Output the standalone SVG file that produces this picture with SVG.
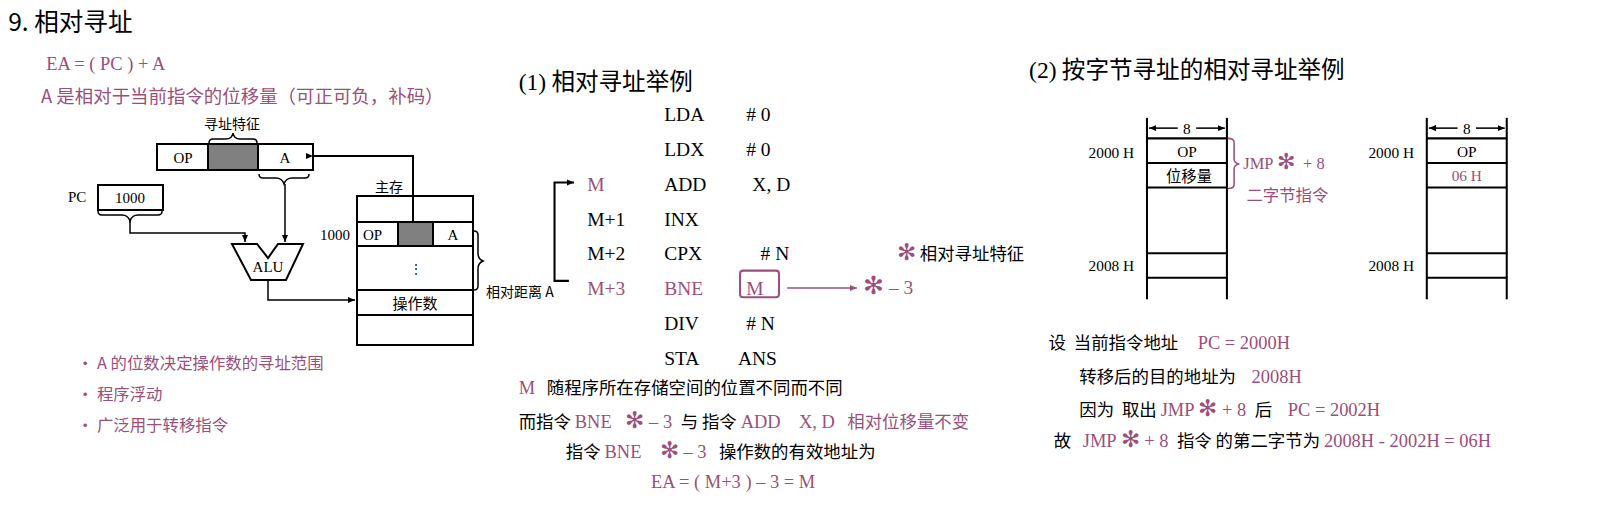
<svg xmlns="http://www.w3.org/2000/svg" width="1603" height="521" viewBox="0 0 1603 521">
<style>
text{font-family:"Liberation Serif","Noto Sans CJK SC",serif;font-size:17px;fill:#000;white-space:pre}
.cn{font-family:"Noto Sans CJK SC",sans-serif}
.p{fill:#9B4F7A}
.l{font-family:"Liberation Serif",serif;font-size:18px}
.b{fill:none;stroke:#000;stroke-width:2}
.t{fill:none;stroke:#000;stroke-width:1.5}
.g{fill:#808080;stroke:#000;stroke-width:2}
.m{font-size:19px}
</style>
<defs>
<marker id="a" markerWidth="8" markerHeight="8" refX="7" refY="4" orient="auto" markerUnits="userSpaceOnUse"><path d="M0,1 L7,4 L0,7 z" fill="#000"/></marker>
<marker id="ap" markerWidth="8" markerHeight="8" refX="7" refY="4" orient="auto" markerUnits="userSpaceOnUse"><path d="M0,1 L7,4 L0,7 z" fill="#9B4F7A"/></marker>
</defs>
<g transform="scale(1.025)">
<text x="8" y="30" class="cn" style="font-size:24px">9. 相对寻址</text>
<text x="45" y="68" class="p" style="font-size:18px">EA = ( PC ) + A</text>
<text x="40" y="100" class="p cn" style="font-size:18px">A 是相对于当前指令的位移量（可正可负，补码）</text>
<g id="bul">
<text x="75" y="360" class="p cn" style="font-size:16px">• A 的位数决定操作数的寻址范围</text>
<text x="75" y="390" class="p cn" style="font-size:16px">• 程序浮动</text>
<text x="75" y="420" class="p cn" style="font-size:16px">• 广泛用于转移指令</text>
</g>
<g id="prog">
<text x="506" y="88" class="cn" style="font-size:23px"><tspan style="font-family:'Liberation Serif'">(1)</tspan> 相对寻址举例</text>
<text x="648" y="118" class="m">LDA</text><text x="728" y="118" class="m"># 0</text>
<text x="648" y="152" class="m">LDX</text><text x="728" y="152" class="m"># 0</text>
<text x="573" y="186" class="m p">M</text><text x="648" y="186" class="m">ADD</text><text x="734" y="186" class="m">X, D</text>
<text x="573" y="220" class="m">M+1</text><text x="648" y="220" class="m">INX</text>
<text x="573" y="254" class="m">M+2</text><text x="648" y="254" class="m">CPX</text><text x="742" y="254" class="m"># N</text>
<text x="573" y="288" class="m p">M+3</text><text x="648" y="288" class="m p">BNE</text><text x="728" y="288" class="m p">M</text>
<text x="648" y="322" class="m">DIV</text><text x="728" y="322" class="m"># N</text>
<text x="648" y="356" class="m">STA</text><text x="720" y="356" class="m">ANS</text>
<rect x="722" y="264" width="38" height="26" rx="3" fill="none" stroke="#9B4F7A" stroke-width="2"/>
<text x="875" y="254" class="cn" style="font-size:17px"><tspan class="p" style="font-size:22px">✻</tspan> 相对寻址特征</text>
<text x="842" y="287" class="p" style="font-size:19px"><tspan style="font-size:24px">✻</tspan> – 3</text>
</g>
<g id="connectors2">
<path d="M555,274 H541 V178 H560" class="b" marker-end="url(#a)"/>
<path d="M768,281 H836" stroke="#9B4F7A" stroke-width="1.5" fill="none" marker-end="url(#ap)"/>
</g>
<g id="notes">
<text x="506" y="384" class="cn" style="font-size:17px"><tspan class="p l">M</tspan>   随程序所在存储空间的位置不同而不同</text>
<text x="506" y="418" class="cn" style="font-size:17px">而指令 <tspan class="p l">BNE   <tspan style="font-size:22px">✻</tspan> – 3 </tspan> 与 指令 <tspan class="p l">ADD    X, D </tspan>  <tspan class="p">相对位移量不变</tspan></text>
<text x="552" y="447" class="cn" style="font-size:17px">指令 <tspan class="p l">BNE    <tspan style="font-size:22px">✻</tspan> – 3 </tspan>  操作数的有效地址为</text>
<text x="635" y="476" class="p" style="font-size:18px">EA = ( M+3 ) – 3 = M</text>
</g>
<text x="1004" y="76" class="cn" style="font-size:23px"><tspan style="font-family:'Liberation Serif'">(2)</tspan> 按字节寻址的相对寻址举例</text>
<g id="mem1">
<line x1="1119" y1="115" x2="1119" y2="292" class="b"/>
<line x1="1197" y1="115" x2="1197" y2="292" class="b"/>
<line x1="1119" y1="135" x2="1197" y2="135" class="b"/>
<line x1="1119" y1="159" x2="1197" y2="159" class="b"/>
<line x1="1119" y1="183" x2="1197" y2="183" class="b"/>
<line x1="1119" y1="247" x2="1197" y2="247" class="b"/>
<line x1="1119" y1="271" x2="1197" y2="271" class="b"/>
<path d="M1149,125 H1121" class="t" marker-end="url(#a)"/>
<path d="M1167,125 H1195" class="t" marker-end="url(#a)"/>
<text x="1158" y="131" text-anchor="middle" style="font-size:15px">8</text>
<text x="1158" y="153" text-anchor="middle" style="font-size:15px">OP</text>
<text x="1160" y="178" text-anchor="middle" class="cn" style="font-size:15px">位移量</text>
<text x="1062" y="154" style="font-size:15px">2000 H</text>
<text x="1062" y="264" style="font-size:15px">2008 H</text>
<path d="M1198,135 q6,0 6,4 v16 q0,4 5,5 q-5,1 -5,5 v15 q0,4 -6,4" fill="none" stroke="#9B4F7A" stroke-width="1.5"/>
<text x="1213" y="165" class="p" style="font-size:16px">JMP <tspan style="font-size:21px">✻</tspan>  + 8</text>
<text x="1216" y="196" class="p cn" style="font-size:16px">二字节指令</text>
</g>
<g id="mem2">
<line x1="1392" y1="115" x2="1392" y2="292" class="b"/>
<line x1="1470" y1="115" x2="1470" y2="292" class="b"/>
<line x1="1392" y1="135" x2="1470" y2="135" class="b"/>
<line x1="1392" y1="159" x2="1470" y2="159" class="b"/>
<line x1="1392" y1="183" x2="1470" y2="183" class="b"/>
<line x1="1392" y1="247" x2="1470" y2="247" class="b"/>
<line x1="1392" y1="271" x2="1470" y2="271" class="b"/>
<path d="M1422,125 H1394" class="t" marker-end="url(#a)"/>
<path d="M1440,125 H1468" class="t" marker-end="url(#a)"/>
<text x="1431" y="131" text-anchor="middle" style="font-size:15px">8</text>
<text x="1431" y="153" text-anchor="middle" style="font-size:15px">OP</text>
<text x="1431" y="177" text-anchor="middle" class="p" style="font-size:15px">06 H</text>
<text x="1335" y="154" style="font-size:15px">2000 H</text>
<text x="1335" y="264" style="font-size:15px">2008 H</text>
</g>
<g id="calc">
<text x="1023" y="340" class="cn" style="font-size:17px">设  当前指令地址     <tspan class="p l">PC = 2000H</tspan></text>
<text x="1053" y="374" class="cn" style="font-size:17px">转移后的目的地址为    <tspan class="p l">2008H</tspan></text>
<text x="1053" y="406" class="cn" style="font-size:17px">因为  取出 <tspan class="p l">JMP <tspan style="font-size:22px">✻</tspan> + 8 </tspan> 后    <tspan class="p l">PC = 2002H</tspan></text>
<text x="1028" y="436" class="cn" style="font-size:17px">故   <tspan class="p l">JMP <tspan style="font-size:22px">✻</tspan> + 8 </tspan> 指令 的第二字节为 <tspan class="p l">2008H - 2002H = 06H</tspan></text>
</g>
</g>

<g id="ir">
<rect x="157" y="144" width="156" height="26" class="b" fill="#fff"/>
<rect x="208" y="144" width="50" height="26" class="g"/>
<text x="183" y="163" text-anchor="middle" style="font-size:15px">OP</text>
<text x="285" y="163" text-anchor="middle" style="font-size:15px">A</text>
<path d="M209,143 q0,-4 4,-4 h13 q6,0 7,-6 q1,6 7,6 h13 q4,0 4,4" class="t"/>
<text x="232" y="129" text-anchor="middle" class="cn" style="font-size:14px">寻址特征</text>
<path d="M259,174 q0,4 4,4 h13 q6,0 8,6 q2,-6 8,-6 h13 q4,0 4,-4" class="t"/>
</g>
<g id="pc">
<text x="68" y="202" style="font-size:15px">PC</text>
<rect x="98" y="185" width="65" height="25" class="b" fill="#fff"/>
<text x="130" y="203" text-anchor="middle" style="font-size:15px">1000</text>
<path d="M98,211 q0,4 4,4 h20 q6,0 8,6 q2,-6 8,-6 h20 q4,0 4,-4" class="t"/>
</g>
<g id="alu">
<path d="M232,244 H257 L268,258 L278,244 H303 L286,280 H251 Z" class="b" fill="#fff"/>
<text x="268" y="272" text-anchor="middle" style="font-size:15px">ALU</text>
</g>
<g id="mem">
<text x="375" y="192" class="cn" style="font-size:14px">主存</text>
<rect x="357" y="196" width="116" height="149" class="b" fill="#fff"/>
<line x1="357" y1="222" x2="473" y2="222" class="b"/>
<line x1="357" y1="246" x2="473" y2="246" class="b"/>
<line x1="357" y1="290" x2="473" y2="290" class="b"/>
<line x1="357" y1="315" x2="473" y2="315" class="b"/>
<rect x="398" y="222" width="35" height="24" class="g"/>
<text x="320" y="240" style="font-size:15px">1000</text>
<text x="363" y="240" style="font-size:15px">OP</text>
<text x="453" y="240" text-anchor="middle" style="font-size:15px">A</text>
<text x="416" y="273" text-anchor="middle" style="font-size:12px">⋮</text>
<text x="415" y="309" text-anchor="middle" class="cn" style="font-size:15px">操作数</text>
<path d="M474,231 q4,0 4,4 v18 q0,6 5,8 q-5,2 -5,8 v17 q0,4 -4,4" class="t"/>
<text x="486" y="297" class="cn" style="font-size:14px">相对距离 A</text>
</g>
<g id="connectors">
<path d="M313,156 H413 V222" class="b" marker-start="url(#a)"/>
<path d="M285,184 V242" class="t" marker-end="url(#a)"/>
<path d="M130,221 V233 H245 V242" class="t" marker-end="url(#a)"/>
<path d="M268,280 V300 H355" class="t" marker-end="url(#a)"/>
</g>
</svg>
